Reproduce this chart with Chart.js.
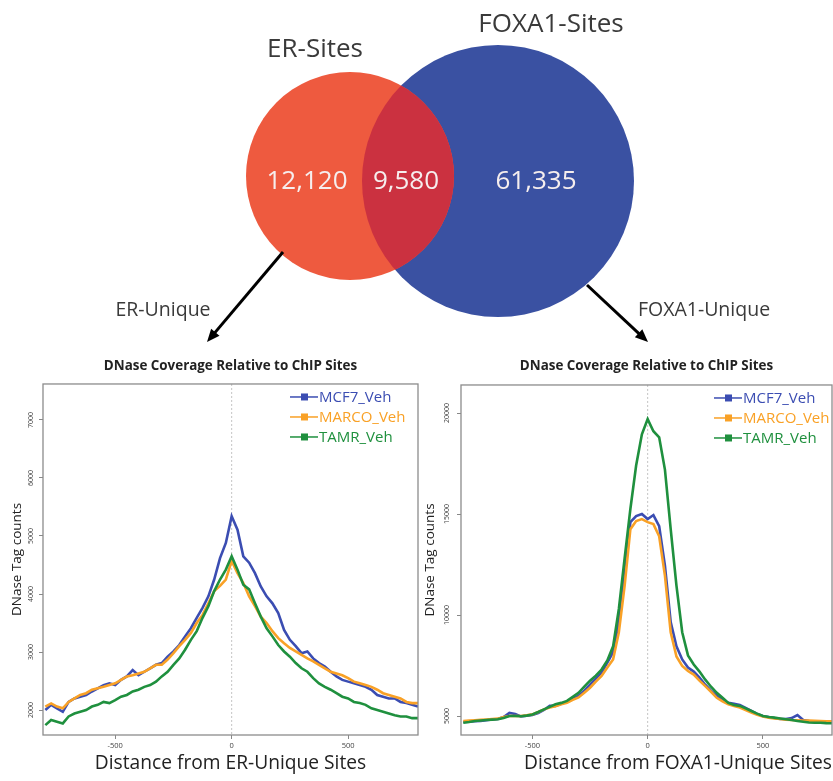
<!DOCTYPE html>
<html>
<head>
<meta charset="utf-8">
<script src="https://cdn.jsdelivr.net/npm/chart.js@4.4.1/dist/chart.umd.min.js"></script>
<style>
  body { margin: 0; background: #fff; }
  #page { position: relative; width: 833px; height: 781px; overflow: hidden; }
  canvas { position: absolute; }
</style>
</head>
<body>
<div id="page">
  <canvas id="venn" width="833" height="350" style="left:0;top:0"></canvas>
  <canvas id="erChart" width="420" height="431" style="left:0;top:350px"></canvas>
  <canvas id="foxaChart" width="413" height="431" style="left:420px;top:350px"></canvas>
</div>
<script>
// Venn counts: ER only, shared, FOXA1 only
const vennSets = ['ER-Sites', 'FOXA1-Sites'];
const vennCounts = [12120, 9580, 61335];
const vennColors = ['#EE5A3F', '#3A51A2'];
const overlapColor = '#CB3140';

// profile data (distance in bp, DNase tag counts)
const seriesNames = ['MCF7_Veh', 'MARCO_Veh', 'TAMR_Veh'];
const seriesColors = ['#3B4DB2', '#F9A126', '#1F903E'];

const distance = [-800, -775, -750, -725, -700, -675, -650, -625, -600, -575, -550, -525, -500,
  -475, -450, -425, -400, -375, -350, -325, -300, -275, -250, -225, -200, -175, -150, -125, -100,
  -75, -50, -25, 0, 25, 50, 75, 100, 125, 150, 175, 200, 225, 250, 275, 300, 325, 350, 375, 400,
  425, 450, 475, 500, 525, 550, 575, 600, 625, 650, 675, 700, 725, 750, 775, 800];

const erMCF7 = [2000, 2090, 2030, 1970, 2140, 2200, 2230, 2260, 2320, 2375, 2430, 2460, 2430,
  2520, 2580, 2690, 2600, 2660, 2720, 2780, 2810, 2920, 3010, 3120, 3270, 3410, 3590, 3760, 3960,
  4250, 4620, 4880, 5340, 5110, 4650, 4540, 4360, 4130, 3960, 3840, 3670, 3380, 3210, 3100, 2980,
  3010, 2890, 2810, 2750, 2660, 2580, 2520, 2490, 2460, 2430, 2400, 2350, 2260, 2230, 2200, 2200,
  2140, 2120, 2090, 2060];
const erMARCO = [2060, 2115, 2060, 2030, 2140, 2200, 2260, 2290, 2350, 2375, 2400, 2430, 2460,
  2520, 2580, 2600, 2630, 2660, 2720, 2780, 2780, 2870, 2980, 3100, 3210, 3330, 3500, 3640, 3840,
  4050, 4140, 4250, 4570, 4360, 4190, 3960, 3790, 3610, 3500, 3360, 3240, 3150, 3070, 3010, 2950,
  2890, 2840, 2780, 2720, 2660, 2630, 2600, 2550, 2490, 2460, 2430, 2400, 2350, 2290, 2260, 2230,
  2200, 2140, 2120, 2120];
const erTAMR = [1740, 1830, 1800, 1770, 1890, 1940, 1970, 2000, 2060, 2090, 2140, 2120, 2170,
  2230, 2260, 2320, 2350, 2400, 2430, 2490, 2580, 2660, 2780, 2890, 3040, 3210, 3360, 3590, 3790,
  4050, 4250, 4420, 4650, 4420, 4160, 4080, 3840, 3610, 3410, 3270, 3120, 3010, 2920, 2810, 2720,
  2660, 2550, 2460, 2400, 2350, 2290, 2230, 2200, 2140, 2120, 2090, 2030, 2000, 1970, 1940, 1910,
  1890, 1890, 1860, 1860];

const foxMCF7 = [4700, 4720, 4740, 4760, 4790, 4830, 4850, 4950, 5150, 5100, 4980, 5020, 5050,
  5150, 5300, 5500, 5500, 5600, 5700, 5850, 6000, 6250, 6550, 6850, 7150, 7650, 8150, 9650, 11950,
  14600, 14900, 15000, 14750, 14950, 14400, 12450, 9650, 8450, 7800, 7400, 7200, 6900, 6550, 6250,
  6000, 5800, 5650, 5600, 5550, 5400, 5250, 5100, 5000, 4950, 4900, 4860, 4850, 4900, 5050, 4800,
  4750, 4720, 4700, 4690, 4680];
const foxMARCO = [4750, 4770, 4790, 4810, 4830, 4850, 4870, 4950, 5000, 5000, 5000, 5040, 5080,
  5200, 5330, 5420, 5480, 5580, 5660, 5800, 5920, 6150, 6400, 6700, 6980, 7400, 7800, 9150, 11450,
  14250, 14650, 14750, 14600, 14500, 13900, 11950, 9150, 7950, 7480, 7230, 7050, 6750, 6480, 6200,
  5900, 5720, 5580, 5500, 5420, 5300, 5170, 5060, 4980, 4920, 4880, 4850, 4820, 4800, 4790, 4780,
  4770, 4760, 4750, 4740, 4740];
const foxTAMR = [4670, 4700, 4750, 4780, 4800, 4820, 4840, 4900, 5000, 5000, 4990, 5020, 5080,
  5200, 5330, 5450, 5580, 5650, 5750, 5950, 6150, 6450, 6750, 7000, 7300, 7750, 8450, 10300, 12800,
  15250, 17400, 18950, 19700, 19100, 18800, 17200, 14250, 11450, 9150, 8000, 7550, 7200, 6800, 6450,
  6150, 5900, 5650, 5550, 5500, 5380, 5250, 5120, 5000, 4950, 4920, 4880, 4840, 4800, 4750, 4720,
  4680, 4670, 4670, 4650, 4640];

const xTicks = [-500, 0, 500];
const erYTicks = [2000, 3000, 4000, 5000, 6000, 7000];
const foxYTicks = [5000, 10000, 15000, 20000];

Chart.defaults.font.family = '"Open Sans", sans-serif';
Chart.defaults.color = '#333';

// ---------- Venn diagram (bubble chart on a page-sized grid) ----------
const vennLayout = {
  circles: [{ x: 350, y: 176, r: 104 }, { x: 498, y: 181, r: 136 }],
  titles: [{ x: 315, y: 50 }, { x: 551, y: 25 }],
  counts: [{ x: 307, y: 182 }, { x: 406, y: 182 }, { x: 536, y: 182 }],
  arrows: [
    { from: [283, 252], to: [207, 342], text: 'ER-Unique', tx: 163, ty: 310 },
    { from: [587, 285], to: [648, 342], text: 'FOXA1-Unique', tx: 704, ty: 310 }
  ]
};

const vennPlugin = {
  id: 'vennExtras',
  afterDatasetsDraw(chart) {
    const { ctx, scales: { x, y } } = chart;
    const a = chart.getDatasetMeta(0).data[0];
    const b = chart.getDatasetMeta(1).data[0];
    // overlap region
    ctx.save();
    ctx.beginPath();
    ctx.arc(a.x, a.y, a.options.radius, 0, Math.PI * 2);
    ctx.clip();
    ctx.beginPath();
    ctx.arc(b.x, b.y, b.options.radius, 0, Math.PI * 2);
    ctx.fillStyle = overlapColor;
    ctx.fill();
    ctx.restore();

    ctx.save();
    ctx.textAlign = 'center';
    ctx.textBaseline = 'middle';
    ctx.fillStyle = '#3a3a3a';
    ctx.font = '26px "Open Sans"';
    vennSets.forEach((name, i) => {
      const p = vennLayout.titles[i];
      ctx.fillText(name, x.getPixelForValue(p.x), y.getPixelForValue(p.y));
    });
    ctx.fillStyle = '#f6eeee';
    vennCounts.forEach((n, i) => {
      const p = vennLayout.counts[i];
      ctx.fillText(n.toLocaleString('en-US'), x.getPixelForValue(p.x), y.getPixelForValue(p.y));
    });

    ctx.font = '19.5px "Open Sans"';
    ctx.fillStyle = '#3a3a3a';
    ctx.strokeStyle = '#000';
    ctx.lineWidth = 3;
    vennLayout.arrows.forEach(ar => {
      const x0 = x.getPixelForValue(ar.from[0]), y0 = y.getPixelForValue(ar.from[1]);
      const x1 = x.getPixelForValue(ar.to[0]), y1 = y.getPixelForValue(ar.to[1]);
      const ang = Math.atan2(y1 - y0, x1 - x0);
      ctx.beginPath();
      ctx.moveTo(x0, y0);
      ctx.lineTo(x1 - 8 * Math.cos(ang), y1 - 8 * Math.sin(ang));
      ctx.stroke();
      ctx.beginPath();
      ctx.moveTo(x1, y1);
      ctx.lineTo(x1 - 14 * Math.cos(ang - 0.4), y1 - 14 * Math.sin(ang - 0.4));
      ctx.lineTo(x1 - 14 * Math.cos(ang + 0.4), y1 - 14 * Math.sin(ang + 0.4));
      ctx.closePath();
      ctx.fillStyle = '#000';
      ctx.fill();
      ctx.fillStyle = '#3a3a3a';
      ctx.fillText(ar.text, x.getPixelForValue(ar.tx), y.getPixelForValue(ar.ty));
    });
    ctx.restore();
  }
};

new Chart(document.getElementById('venn'), {
  type: 'bubble',
  data: {
    datasets: vennSets.map((name, i) => ({
      label: name,
      data: [vennLayout.circles[i]],
      backgroundColor: vennColors[i],
      borderWidth: 0,
      hoverRadius: 0,
      clip: false
    }))
  },
  options: {
    responsive: false,
    animation: false,
    events: [],
    layout: { padding: 0, autoPadding: false },
    scales: {
      x: { display: false, min: 0, max: 833 },
      y: { display: false, min: 0, max: 350, reverse: true }
    },
    plugins: { legend: { display: false }, tooltip: { enabled: false } }
  },
  plugins: [vennPlugin]
});

// ---------- profile charts ----------
const framePlugin = {
  id: 'frame',
  beforeDatasetsDraw(chart) {
    const { ctx, chartArea: a, scales: { x } } = chart;
    const x0 = x.getPixelForValue(0);
    ctx.save();
    ctx.strokeStyle = '#c4c4c4';
    ctx.lineWidth = 1;
    ctx.setLineDash([2, 2]);
    ctx.beginPath();
    ctx.moveTo(x0, a.top);
    ctx.lineTo(x0, a.bottom);
    ctx.stroke();
    ctx.restore();
  },
  afterDraw(chart, args, opts) {
    const { ctx, chartArea: a } = chart;
    ctx.save();
    ctx.strokeStyle = '#8c8c8c';
    ctx.lineWidth = 1.3;
    ctx.strokeRect(a.left, a.top, a.right - a.left, a.bottom - a.top);
    // legend, R style: line with square marker, coloured text
    ctx.font = '15px "Open Sans"';
    ctx.textBaseline = 'middle';
    ctx.textAlign = 'left';
    chart.data.datasets.forEach((ds, i) => {
      const yy = a.top + 13 + i * 20;
      const xx = a.right - opts.fromRight;
      ctx.strokeStyle = ds.borderColor;
      ctx.lineWidth = 1.5;
      ctx.beginPath();
      ctx.moveTo(xx, yy);
      ctx.lineTo(xx + 28, yy);
      ctx.stroke();
      ctx.fillStyle = ds.borderColor;
      ctx.fillRect(xx + 11, yy - 3.5, 7, 7);
      ctx.fillText(ds.label, xx + 29, yy + 1);
    });
    ctx.restore();
  }
};

function profileChart(id, cfg) {
  return new Chart(document.getElementById(id), {
    type: 'line',
    data: {
      labels: distance,
      datasets: cfg.series.map((vals, i) => ({
        label: seriesNames[i],
        data: vals,
        borderColor: seriesColors[i],
        backgroundColor: seriesColors[i],
        borderWidth: 2.6,
        pointRadius: 0,
        tension: 0,
        order: 3 - i
      }))
    },
    options: {
      responsive: false,
      animation: false,
      events: [],
      layout: { padding: { left: 0, right: cfg.padRight, top: 0, bottom: 0 } },
      scales: {
        x: {
          type: 'linear',
          min: -810,
          max: 800,
          afterBuildTicks: s => { s.ticks = xTicks.map(v => ({ value: v })); },
          afterFit: s => { s.height = 46; },
          ticks: { font: { size: 7.5 }, color: '#444', padding: 2, maxRotation: 0, callback: v => String(v) },
          grid: { drawOnChartArea: false, tickLength: 4, color: '#888' },
          border: { display: false },
          title: {
            display: true,
            text: cfg.xTitle,
            align: cfg.xTitleAlign,
            font: { size: 19.2 },
            color: '#222',
            padding: { top: 0, bottom: 6 }
          }
        },
        y: {
          min: cfg.yMin,
          max: cfg.yMax,
          afterBuildTicks: s => { s.ticks = cfg.yTicks.map(v => ({ value: v })); },
          afterFit: s => { s.width = cfg.yWidth; },
          ticks: {
            font: { size: 7 }, color: '#444', padding: 0,
            minRotation: 90, maxRotation: 90, crossAlign: 'center',
            callback: v => String(v)
          },
          grid: { drawOnChartArea: false, tickLength: 4, color: '#888' },
          border: { display: false },
          title: {
            display: true,
            text: 'DNase Tag counts',
            font: { size: 13.5 },
            color: '#222',
            padding: { top: cfg.yTitlePad, bottom: 0 }
          }
        }
      },
      plugins: {
        legend: { display: false },
        tooltip: { enabled: false },
        title: {
          display: true,
          fullSize: false,
          text: 'DNase Coverage Relative to ChIP Sites',
          font: { size: 13.4, weight: 'bold' },
          color: '#222',
          padding: { top: 8, bottom: cfg.titleBottom }
        },
        frame: { fromRight: cfg.legendRight }
      }
    },
    plugins: [framePlugin]
  });
}

profileChart('erChart', {
  series: [erMCF7, erMARCO, erTAMR],
  xTitle: 'Distance from ER-Unique Sites', xTitleAlign: 'center',
  yMin: 1570, yMax: 7620, yTicks: erYTicks,
  yWidth: 43, yTitlePad: 9, padRight: 2,
  titleBottom: 9.9, legendRight: 128
});

profileChart('foxaChart', {
  series: [foxMCF7, foxMARCO, foxTAMR],
  xTitle: 'Distance from FOXA1-Unique Sites', xTitleAlign: 'end',
  yMin: 4060, yMax: 21390, yTicks: foxYTicks,
  yWidth: 41, yTitlePad: 2, padRight: 1,
  titleBottom: 10.9, legendRight: 118
});
</script>
</body>
</html>
